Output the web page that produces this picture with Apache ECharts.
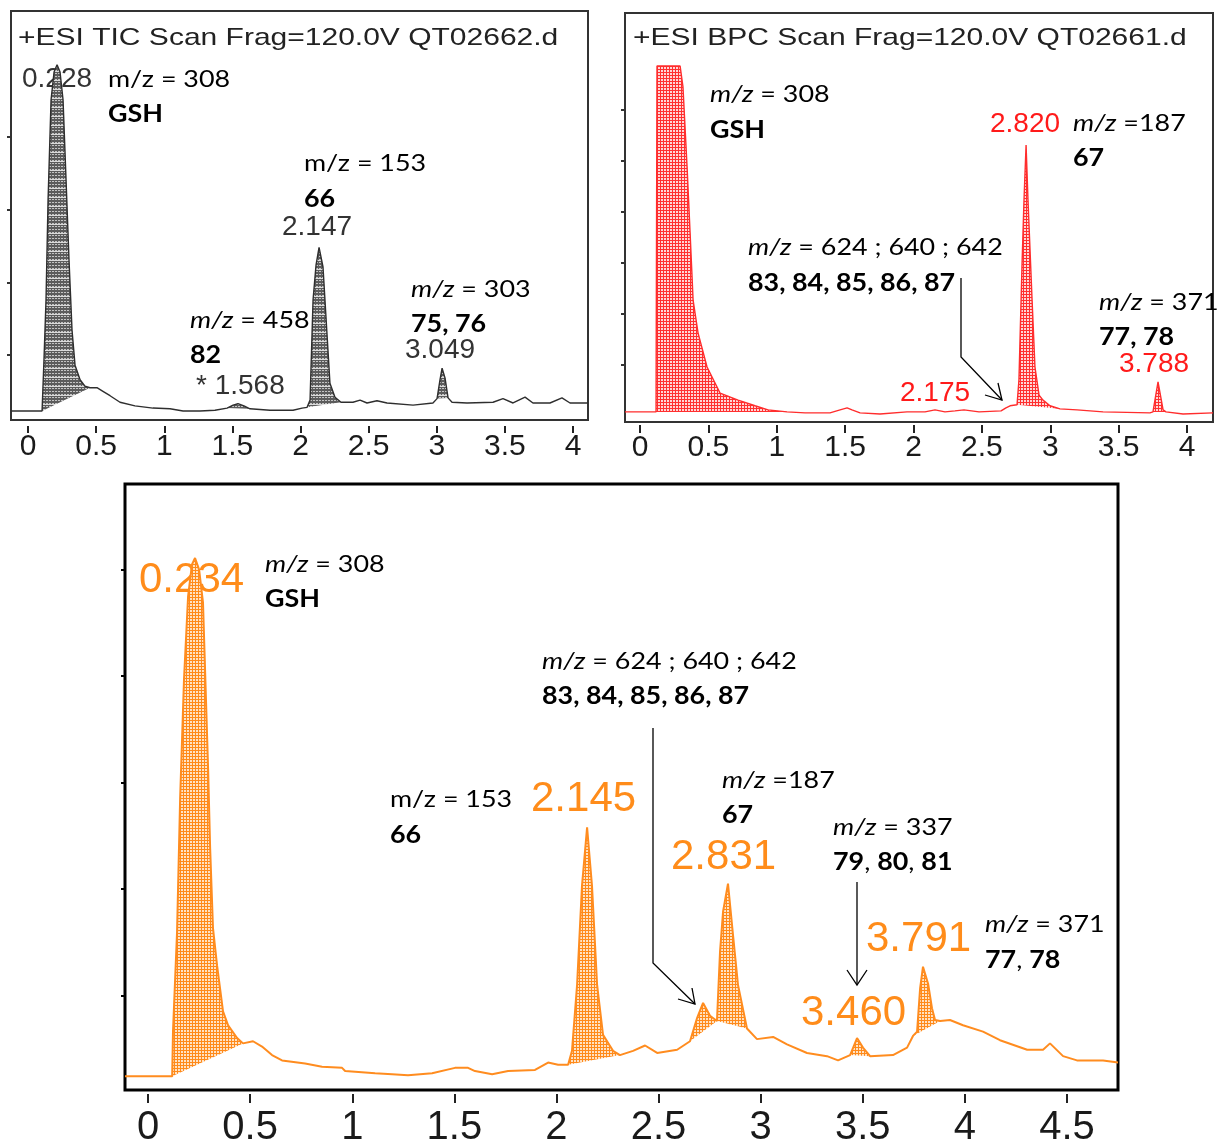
<!DOCTYPE html>
<html><head><meta charset="utf-8">
<script src="https://cdn.jsdelivr.net/npm/echarts@6/dist/echarts.min.js"></script>
<style>html,body{margin:0;padding:0;background:#fff}#c{width:1217px;height:1148px}</style>
</head><body><div id="c"></div>
<script>
// ---- data (retention time in min, intensity in arbitrary tick units) ----
const ticTrace = [[-0.125,0.23],[0.103,0.23],[0.117,0.93],[0.132,1.76],[0.147,3.13],[0.169,4.51],[0.191,4.89],[0.213,4.99],[0.235,4.89],[0.257,4.51],[0.279,3.41],[0.301,2.30],[0.323,1.34],[0.345,0.86],[0.382,0.66],[0.418,0.57],[0.455,0.55],[0.506,0.55],[0.550,0.50],[0.602,0.44],[0.675,0.35],[0.785,0.30],[0.917,0.27],[1.042,0.26],[1.138,0.23],[1.262,0.23],[1.372,0.24],[1.461,0.27],[1.505,0.31],[1.541,0.33],[1.585,0.30],[1.629,0.26],[1.776,0.24],[1.945,0.24],[2.011,0.27],[2.048,0.28],[2.070,0.38],[2.092,1.76],[2.114,2.24],[2.136,2.48],[2.165,2.21],[2.194,1.30],[2.216,0.61],[2.253,0.42],[2.297,0.35],[2.385,0.35],[2.437,0.38],[2.488,0.34],[2.561,0.37],[2.635,0.34],[2.826,0.31],[2.972,0.34],[3.002,0.40],[3.024,0.66],[3.039,0.82],[3.061,0.68],[3.083,0.41],[3.112,0.35],[3.222,0.34],[3.413,0.35],[3.486,0.40],[3.560,0.34],[3.648,0.42],[3.706,0.34],[3.831,0.34],[3.919,0.41],[3.978,0.34],[4.110,0.34]];
const bpcTrace = [[-0.110,0.08],[0.117,0.08],[0.124,6.86],[0.161,6.86],[0.293,6.86],[0.314,6.45],[0.344,4.88],[0.366,3.59],[0.388,2.27],[0.424,1.63],[0.490,0.96],[0.585,0.45],[0.717,0.31],[0.841,0.20],[0.936,0.12],[1.075,0.08],[1.207,0.06],[1.389,0.06],[1.463,0.12],[1.514,0.16],[1.550,0.12],[1.609,0.06],[1.755,0.04],[1.952,0.08],[2.084,0.08],[2.157,0.12],[2.230,0.08],[2.303,0.10],[2.369,0.12],[2.479,0.08],[2.640,0.10],[2.676,0.16],[2.706,0.20],[2.757,0.22],[2.771,0.71],[2.793,2.92],[2.808,4.24],[2.823,5.31],[2.837,4.24],[2.867,2.27],[2.888,0.96],[2.918,0.41],[2.947,0.31],[2.998,0.20],[3.071,0.14],[3.196,0.12],[3.386,0.08],[3.729,0.06],[3.751,0.08],[3.788,0.67],[3.825,0.12],[3.846,0.08],[3.971,0.04],[4.190,0.06]];
const sampleTrace = [[-0.113,0.24],[0.118,0.24],[0.122,0.66],[0.142,1.60],[0.157,2.85],[0.176,3.97],[0.196,4.75],[0.215,5.05],[0.230,5.11],[0.250,5.00],[0.269,4.69],[0.294,3.13],[0.304,2.38],[0.318,1.63],[0.338,1.28],[0.367,0.85],[0.392,0.72],[0.436,0.60],[0.465,0.55],[0.514,0.57],[0.558,0.52],[0.607,0.44],[0.656,0.39],[0.769,0.36],[0.852,0.33],[0.950,0.32],[0.965,0.29],[1.112,0.27],[1.195,0.26],[1.273,0.25],[1.391,0.27],[1.503,0.32],[1.567,0.32],[1.601,0.29],[1.685,0.26],[1.763,0.29],[1.895,0.30],[1.959,0.37],[2.008,0.35],[2.057,0.35],[2.076,0.48],[2.101,1.10],[2.125,2.03],[2.150,2.58],[2.174,2.03],[2.199,1.10],[2.228,0.63],[2.277,0.48],[2.311,0.44],[2.375,0.48],[2.434,0.53],[2.493,0.46],[2.591,0.49],[2.654,0.57],[2.689,0.79],[2.718,0.93],[2.752,0.81],[2.786,0.76],[2.801,1.41],[2.816,1.79],[2.840,2.05],[2.865,1.56],[2.889,1.10],[2.933,0.69],[2.982,0.59],[3.061,0.61],[3.129,0.54],[3.227,0.46],[3.325,0.43],[3.379,0.39],[3.438,0.44],[3.472,0.60],[3.501,0.51],[3.536,0.43],[3.648,0.44],[3.717,0.51],[3.746,0.62],[3.766,0.66],[3.781,1.07],[3.795,1.27],[3.820,1.11],[3.839,0.88],[3.854,0.77],[3.879,0.76],[3.927,0.77],[3.991,0.72],[4.089,0.66],[4.172,0.58],[4.305,0.49],[4.383,0.49],[4.417,0.55],[4.481,0.43],[4.549,0.39],[4.677,0.39],[4.750,0.37]];
const ticShaded = [[0.103,0.455],[1.461,1.629],[2.048,2.297],[3.002,3.083]];
const bpcShaded = [[0.117,1.075],[2.757,3.071],[3.751,3.846]];
const sampleShaded = [[0.118,0.465],[2.057,2.311],[2.654,2.786],[2.786,2.933],[3.438,3.536],[3.746,3.879]];
const topXTicks = [0,0.5,1,1.5,2,2.5,3,3.5,4];
const bottomXTicks = [0,0.5,1,1.5,2,2.5,3,3.5,4,4.5];
const ticYTicks = [1,2,3,4];
const bpcYTicks = [1,2,3,4,5,6];
const sampleYTicks = [1,2,3,4,5];

// ---- styles ----
function makePattern(w, h, draw){
  const c = document.createElement('canvas'); c.width = w; c.height = h;
  const g = c.getContext('2d'); draw(g, w, h);
  return {image: c, repeat: 'repeat'};
}
const greyHatch = makePattern(3, 9, (g,w,h)=>{
  g.fillStyle='#5c5c5c'; g.fillRect(0,0,w,h);
  g.fillStyle='#c4c4c4'; for(let r=1;r<h;r+=3){ g.fillRect(1,r,1,1); g.fillRect(2,r,1,1); }
  g.fillStyle='#dadada'; g.fillRect(0,8,w,1);
});
const redHatch = makePattern(3, 3, (g,w,h)=>{
  g.fillStyle='#ffd6d6'; g.fillRect(0,0,w,h);
  g.fillStyle='#ff3030'; g.fillRect(0,0,w,1); g.fillRect(0,0,1,h);
});
const orangeHatch = makePattern(3, 3, (g,w,h)=>{
  g.fillStyle='#ffe2c4'; g.fillRect(0,0,w,h);
  g.fillStyle='#ff8a1a'; g.fillRect(0,0,w,1); g.fillRect(0,0,1,h);
});

const ARIAL = '"Liberation Sans", Arial, sans-serif';
const ANNO = 'Lato, "Open Sans", sans-serif';

const panels = [
  {grid:{left:11, top:11, width:577, height:409, borderColor:'#333', borderWidth:2},
   x:{min:-0.125, max:4.110, ticks:topXTicks, offset:6, tickLen:7, margin:6, font:30},
   y:{min:0.106, max:5.73, ticks:ticYTicks, color:'#333'},
   trace:ticTrace, shaded:ticShaded, line:'#2e2e2e', lw:1.4, hatch:greyHatch},
  {grid:{left:625, top:13, width:588, height:409, borderColor:'#333', borderWidth:2},
   x:{min:-0.110, max:4.190, ticks:topXTicks, offset:3, tickLen:8, margin:8, font:30},
   y:{min:-0.118, max:7.90, ticks:bpcYTicks, color:'#333'},
   trace:bpcTrace, shaded:bpcShaded, line:'#ff2d2d', lw:1.4, hatch:redHatch},
  {grid:{left:125, top:484, width:993, height:608, borderColor:'#000', borderWidth:3},
   x:{min:-0.113, max:4.750, ticks:bottomXTicks, offset:4, tickLen:9, margin:14, font:40},
   y:{min:0.112, max:5.805, ticks:sampleYTicks, color:'#000'},
   trace:sampleTrace, shaded:sampleShaded, line:'#ff8c1f', lw:2, hatch:orangeHatch}
];

const grid = [], xAxis = [], yAxis = [], series = [];
panels.forEach((p, i) => {
  grid.push(Object.assign({show:true, backgroundColor:'transparent', containLabel:false}, p.grid));
  xAxis.push({type:'value', gridIndex:i, min:p.x.min, max:p.x.max, offset:p.x.offset, position:'bottom',
    axisLine:{show:false, onZero:false}, splitLine:{show:false},
    axisTick:{show:true, length:p.x.tickLen, customValues:p.x.ticks, lineStyle:{color:'#222', width:2}},
    axisLabel:{show:true, customValues:p.x.ticks, margin:p.x.margin, fontSize:p.x.font, fontFamily:ARIAL, color:'#1a1a1a',
      formatter:v=>String(v)}});
  yAxis.push({type:'value', gridIndex:i, min:p.y.min, max:p.y.max, position:'left',
    axisLine:{show:false, onZero:false}, splitLine:{show:false}, axisLabel:{show:false},
    axisTick:{show:true, inside:false, length:4, customValues:p.y.ticks, lineStyle:{color:p.y.color, width:2}}});
  const trace = p.trace, pat = p.hatch;
  series.push({type:'custom', xAxisIndex:i, yAxisIndex:i, silent:true, z:2,
    data:p.shaded.map(r=>[r[0], r[1], 0]), encode:{x:[0,1], y:2},
    renderItem:(params, api)=>{
      const a = api.value(0), b = api.value(1);
      const pts = trace.filter(q=>q[0]>=a-1e-6 && q[0]<=b+1e-6).map(q=>api.coord(q));
      return {type:'polygon', shape:{points:pts}, style:{fill:pat, stroke:null}};
    }});
  series.push({type:'line', xAxisIndex:i, yAxisIndex:i, data:trace, symbol:'none', showSymbol:false, silent:true, z:3,
    lineStyle:{color:p.line, width:p.lw}});
});

// ---- annotations ----
const els = [];
function txt(x, y, text, o){
  o = o || {};
  els.push({type:'text', x:x, y:y, scaleX:o.sx || 1, z:o.z || 10,
    style:{text:text, fontFamily:o.ff || ANNO, fontSize:o.fs || 24, fontWeight:o.fw || 'normal',
      fill:o.c || '#000', verticalAlign:'middle', align:'left',
      rich:{i:{fontStyle:'italic', fontFamily:o.ff || ANNO, fontSize:o.fs || 24, fill:o.c || '#000'},
            b:{fontWeight:'bold', fontFamily:o.ff || ANNO, fontSize:o.fs || 24, fill:o.c || '#000'}}}});
}
const SX = 1.12;
// titles
txt(18, 38, '+ESI TIC Scan Frag=120.0V QT02662.d', {ff:ARIAL, fs:24, sx:1.25, c:'#222'});
txt(633, 38, '+ESI BPC Scan Frag=120.0V QT02661.d', {ff:ARIAL, fs:24, sx:1.25, c:'#222'});
// panel 1
txt(22, 79, '0.228', {ff:ARIAL, fs:28, c:'#333', z:1});
txt(282, 227, '2.147', {ff:ARIAL, fs:28, c:'#333'});
txt(405, 350, '3.049', {ff:ARIAL, fs:28, c:'#333'});
txt(196, 386, '* 1.568', {ff:ARIAL, fs:28, c:'#333'});
txt(108, 79, 'm/z = 308', {sx:SX});
txt(108, 114, 'GSH', {sx:SX, fw:'bold'});
txt(304, 163, 'm/z = 153', {sx:SX});
txt(304, 199, '66', {sx:SX, fw:'bold'});
txt(190, 320, '{i|m/z} = 458', {sx:SX});
txt(190, 355, '82', {sx:SX, fw:'bold'});
txt(411, 289, '{i|m/z} = 303', {sx:SX});
txt(411, 324, '75, 76', {sx:SX, fw:'bold'});
// panel 2
txt(710, 94, '{i|m/z} = 308', {sx:SX});
txt(710, 130, 'GSH', {sx:SX, fw:'bold'});
txt(990, 124, '2.820', {ff:ARIAL, fs:28, c:'#ff1a1a'});
txt(1073, 123, '{i|m/z} =187', {sx:SX});
txt(1073, 158, '67', {sx:SX, fw:'bold'});
txt(748, 247, '{i|m/z} = 624 ; 640 ; 642', {sx:SX});
txt(748, 283, '83, 84, 85, 86, 87', {sx:SX, fw:'bold'});
txt(1099, 302, '{i|m/z} = 371', {sx:SX});
txt(1099, 337, '77, 78', {sx:SX, fw:'bold'});
txt(1119, 364, '3.788', {ff:ARIAL, fs:28, c:'#ff1a1a'});
txt(900, 393, '2.175', {ff:ARIAL, fs:28, c:'#ff1a1a'});
// panel 3
const OR = '#ff8c1a';
txt(139, 580, '0.234', {ff:ARIAL, fs:42, c:OR, z:1});
txt(265, 564, '{i|m/z} = 308', {sx:SX});
txt(265, 599, 'GSH', {sx:SX, fw:'bold'});
txt(542, 661, '{i|m/z} = 624 ; 640 ; 642', {sx:SX});
txt(542, 696, '83, 84, 85, 86, 87', {sx:SX, fw:'bold'});
txt(390, 799, 'm/z = 153', {sx:SX});
txt(390, 835, '66', {sx:SX, fw:'bold'});
txt(531, 799, '2.145', {ff:ARIAL, fs:42, c:OR});
txt(722, 780, '{i|m/z} =187', {sx:SX});
txt(722, 815, '67', {sx:SX, fw:'bold'});
txt(671, 857, '2.831', {ff:ARIAL, fs:42, c:OR});
txt(833, 827, '{i|m/z} = 337', {sx:SX});
txt(833, 862, '{b|79}, {b|80}, {b|81}', {sx:SX});
txt(866, 939, '3.791', {ff:ARIAL, fs:42, c:OR});
txt(985, 924, '{i|m/z} = 371', {sx:SX});
txt(985, 960, '{b|77}, {b|78}', {sx:SX});
txt(801, 1013, '3.460', {ff:ARIAL, fs:42, c:OR});
// arrows
function arrow(pts, w1, w2){
  els.push({type:'polyline', z:10, shape:{points:pts}, style:{stroke:'#000', lineWidth:1.3, fill:null}});
  const tip = pts[pts.length-1];
  els.push({type:'polyline', z:10, shape:{points:[w1, tip, w2]}, style:{stroke:'#000', lineWidth:1.3, fill:null}});
}
arrow([[961,278],[961,357],[1002,400]], [985,395], [998,383]);
arrow([[653,728],[653,963],[695,1004]], [678,999], [692,988]);
arrow([[857,882],[857,985]], [847,970], [867,970]);

const chart = echarts.init(document.getElementById('c'), null, {renderer:'canvas'});
chart.setOption({animation:false, backgroundColor:'#fff', grid, xAxis, yAxis, series, graphic:{elements:els}});
</script>
</body></html>
